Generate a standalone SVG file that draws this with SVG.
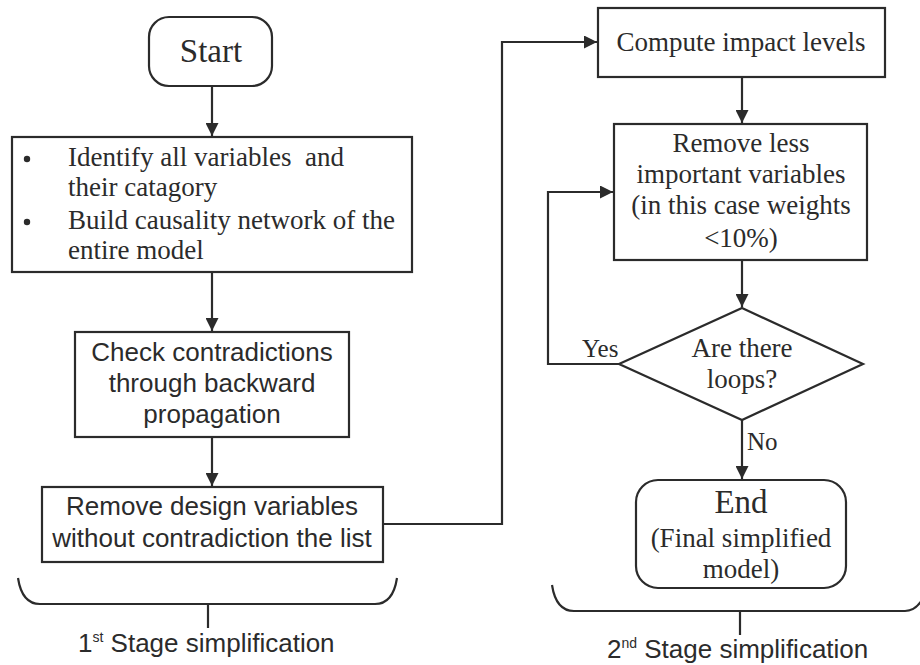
<svg xmlns="http://www.w3.org/2000/svg" width="920" height="665" viewBox="0 0 920 665">
<defs>
<marker id="ah" viewBox="0 0 10 10" refX="10" refY="5" markerWidth="13" markerHeight="13" markerUnits="userSpaceOnUse" orient="auto">
<path d="M0,0 L10,5 L0,10 Z" fill="#2b2b2b"/>
</marker>
<style>
.bx{fill:#fff;stroke:#2b2b2b;stroke-width:2.2}
.ln{fill:none;stroke:#2b2b2b;stroke-width:2.2}
.sf{font-family:"Liberation Serif","Times New Roman",serif;font-size:27px;fill:#2b2b2b}
.ss{font-family:"Liberation Sans",Arial,sans-serif;font-size:26px;fill:#2b2b2b}
.c{text-anchor:middle}
</style>
</defs>
<rect width="920" height="665" fill="#fff"/>
<g id="connectors">
<line class="ln" x1="212" y1="86" x2="212" y2="136" marker-end="url(#ah)"/>
<line class="ln" x1="212" y1="272" x2="212" y2="331" marker-end="url(#ah)"/>
<line class="ln" x1="212" y1="437" x2="212" y2="486" marker-end="url(#ah)"/>
<polyline class="ln" points="383,524 502,524 502,42 597,42" marker-end="url(#ah)"/>
<line class="ln" x1="742" y1="77" x2="742" y2="123" marker-end="url(#ah)"/>
<line class="ln" x1="742" y1="260" x2="742" y2="307" marker-end="url(#ah)"/>
<polyline class="ln" points="619,364 548,364 548,192 613,192" marker-end="url(#ah)"/>
<line class="ln" x1="742" y1="420" x2="742" y2="479" marker-end="url(#ah)"/>
<text class="sf" x="582" y="357" style="font-size:25px">Yes</text>
<text class="sf" x="747" y="450" style="font-size:25px">No</text>
</g>
<g id="start">
<rect class="bx" x="149" y="17" width="123" height="69" rx="20"/>
<text class="sf c" x="211" y="62" style="font-size:33px">Start</text>
</g>
<g id="identify">
<rect class="bx" x="12" y="137" width="400" height="135"/>
<circle cx="27" cy="159" r="3.2" fill="#2b2b2b"/>
<circle cx="27" cy="222" r="3.2" fill="#2b2b2b"/>
<text class="sf" x="68" y="166" style="white-space:pre">Identify all variables  and</text>
<text class="sf" x="68" y="196">their catagory</text>
<text class="sf" x="68" y="229">Build causality network of the</text>
<text class="sf" x="68" y="259">entire model</text>
</g>
<g id="check">
<rect class="bx" x="75" y="332" width="274" height="105"/>
<text class="ss c" x="212" y="361">Check contradictions</text>
<text class="ss c" x="212" y="392">through backward</text>
<text class="ss c" x="212" y="423">propagation</text>
</g>
<g id="remove-design">
<rect class="bx" x="42" y="487" width="341" height="75"/>
<text class="ss c" x="212" y="515">Remove design variables</text>
<text class="ss c" x="212" y="547">without contradiction the list</text>
</g>
<g id="compute">
<rect class="bx" x="598" y="8" width="287" height="69"/>
<text class="sf c" x="741" y="51">Compute impact levels</text>
</g>
<g id="remove-less">
<rect class="bx" x="614" y="124" width="253" height="136"/>
<text class="sf c" x="741" y="152">Remove less</text>
<text class="sf c" x="741" y="183">important variables</text>
<text class="sf c" x="741" y="214">(in this case weights</text>
<text class="sf c" x="741" y="247">&lt;10%)</text>
</g>
<g id="decision">
<polygon class="bx" points="742,308 863,364 742,420 619,364"/>
<text class="sf c" x="742" y="357">Are there</text>
<text class="sf c" x="742" y="388">loops?</text>
</g>
<g id="end">
<rect class="bx" x="636" y="480" width="210" height="108" rx="22"/>
<text class="sf c" x="741" y="513" style="font-size:33px">End</text>
<text class="sf c" x="741" y="547">(Final simplified</text>
<text class="sf c" x="741" y="578">model)</text>
</g>
<g id="stage1">
<path class="ln" d="M18,578 Q22,604 40,604 L375,604 Q393,604 397,578"/>
<line class="ln" x1="208" y1="604" x2="208" y2="628"/>
<text class="ss" x="78" y="652" style="font-size:26px">1<tspan dy="-10" style="font-size:14px">st</tspan><tspan dy="10"> Stage simplification</tspan></text>
</g>
<g id="stage2">
<path class="ln" d="M552,585 Q556,611 574,611 L905,611 Q915,611 922,600"/>
<line class="ln" x1="740" y1="611" x2="740" y2="635"/>
<text class="ss" x="607" y="658" style="font-size:26px">2<tspan dy="-10" style="font-size:14px">nd</tspan><tspan dy="10"> Stage simplification</tspan></text>
</g>
</svg>
